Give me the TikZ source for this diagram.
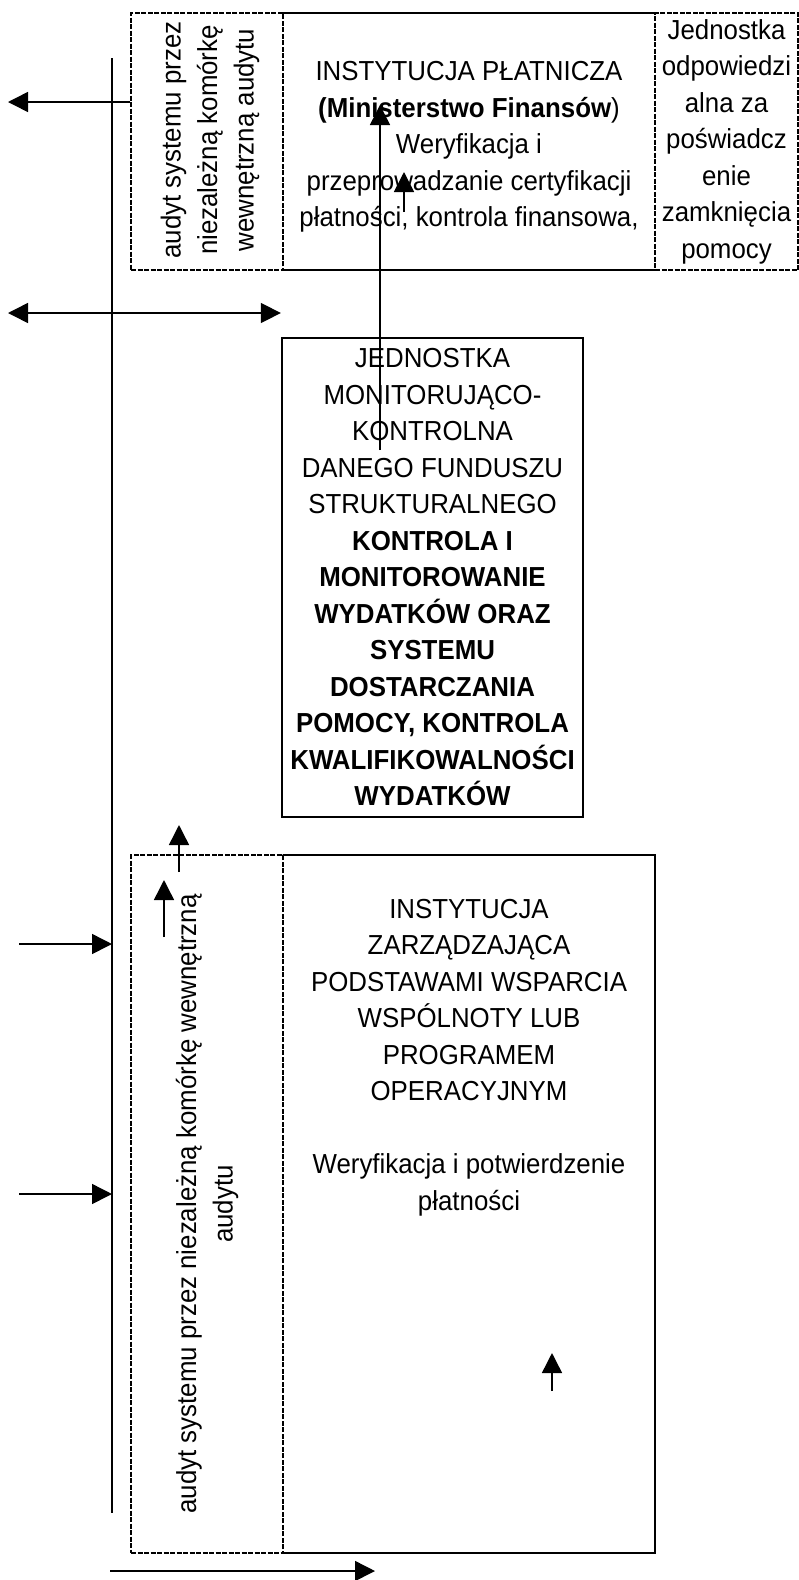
\documentclass[tikz,border=0pt]{standalone}
\usepackage{fontspec}
\setmainfont{Liberation Sans}[FakeStretch=0.94]
\usetikzlibrary{arrows.meta,positioning}

\begin{document}
\begin{tikzpicture}[x=1pt,y=1pt,yscale=-1,xscale=1,
		boxline/.style={line width=2.3pt},
		dashbox/.style={draw,line width=2.8pt,dash pattern={on 5pt off 1.5pt},inner sep=0pt},
		plainbox/.style={inner sep=0pt},
		txt/.style={align=center,inner sep=0pt,font=\fontsize{27.5}{36.5}\selectfont},
		conn/.style={line width=1.5pt},
		arr/.style={conn,-{Triangle[length=20pt,width=20pt]}},
		dblarr/.style={conn,{Triangle[length=20pt,width=20pt]}-{Triangle[length=20pt,width=20pt]}}]
		\useasboundingbox (0,0) rectangle (799,1580);
		
		%Shape: Rectangle - top row
		\node [dashbox,minimum width=152pt,minimum height=257pt] (audA) at (207,141.5) {};
		\node [plainbox,minimum width=372pt,minimum height=257pt] (plat) at (469,141.5) {};
		\node [dashbox,txt,minimum width=143pt,minimum height=257pt] (jedPos) at (726.5,141.5) {Jednostka\\odpowiedzi\\alna za\\poświadcz\\enie\\zamknięcia\\pomocy};
		\draw [boxline] (plat.north west) -- (plat.north east) (plat.south west) -- (plat.south east);
		
		% Text Node
		\node [txt,rotate=90] (audAtxt) at (210,140) {audyt systemu przez\\niezależną komórkę\\wewnętrzną audytu};
		% Text Node
		\node [txt] (platTxt) at (469,147) {INSTYTUCJA PŁATNICZA\\\textbf{(Ministerstwo Finansów})\\Weryfikacja i\\przeprowadzanie certyfikacji\\płatności, kontrola finansowa,};
		
		%Shape: Rectangle - middle
		\node [draw,boxline,txt,minimum width=301pt,minimum height=479pt] (jmk) at (432.5,577.5) {JEDNOSTKA\\MONITORUJĄCO-\\KONTROLNA\\DANEGO FUNDUSZU\\STRUKTURALNEGO\\\textbf{KONTROLA I}\\\textbf{MONITOROWANIE}\\\textbf{WYDATKÓW ORAZ}\\\textbf{SYSTEMU}\\\textbf{DOSTARCZANIA}\\\textbf{POMOCY, KONTROLA}\\\textbf{KWALIFIKOWALNOŚCI}\\\textbf{WYDATKÓW}};
		
		%Shape: Rectangle - bottom row
		\node [dashbox,minimum width=152pt,minimum height=698pt] (audB) at (207,1204) {};
		\node [plainbox,minimum width=372pt,minimum height=698pt] (zarz) at (469,1204) {};
		\draw [boxline] (zarz.north west) -- (zarz.north east) -- (zarz.south east) -- (zarz.south west);
		
		% Text Node
		\node [txt,rotate=90] (audBtxt) at (207,1204) {audyt systemu przez niezależną komórkę wewnętrzną\\audytu};
		% Text Node
		\node [txt,anchor=north] (zarzTxt) at (469,899) {INSTYTUCJA\\ZARZĄDZAJĄCA\\PODSTAWAMI WSPARCIA\\WSPÓLNOTY LUB\\PROGRAMEM\\OPERACYJNYM\\[36.5pt]Weryfikacja i potwierdzenie\\płatności};
		
		%Straight Lines - free ends
		\coordinate (vT) at (112,58);
		\coordinate (vB) at (112,1513);
		\coordinate (lA) at (8,102);
		\coordinate (lB) at (8,313);
		\coordinate (upA) at (380,450);
		\coordinate (upAt) at (380,105);
		\coordinate (upB) at (404,212);
		\coordinate (upBt) at (404,172);
		\coordinate (upC) at (179,872);
		\coordinate (upCt) at (179,825);
		\coordinate (upD) at (164,937);
		\coordinate (upDt) at (164,880);
		\coordinate (upE) at (552,1391);
		\coordinate (upEt) at (552,1353);
		\coordinate (inA) at (19,944);
		\coordinate (inB) at (19,1194);
		\coordinate (botA) at (110,1571);
		\coordinate (botAt) at (375,1571);
		
		%Straight Lines
		\draw [conn] (vT) -- (vB);
		\draw [arr] (audA.west |- lA) -- (lA);
		\draw [dblarr] (lB) -- (jmk.west |- lB);
		\draw [arr] (upA) -- (upAt);
		\draw [arr] (upB) -- (upBt);
		\draw [arr] (upC) -- (upCt);
		\draw [arr] (upD) -- (upDt);
		\draw [arr] (upE) -- (upEt);
		\draw [arr] (inA) -- (vT |- inA);
		\draw [arr] (inB) -- (vT |- inB);
		\draw [arr] (botA) -- (botAt);
		
\end{tikzpicture}
\end{document}
